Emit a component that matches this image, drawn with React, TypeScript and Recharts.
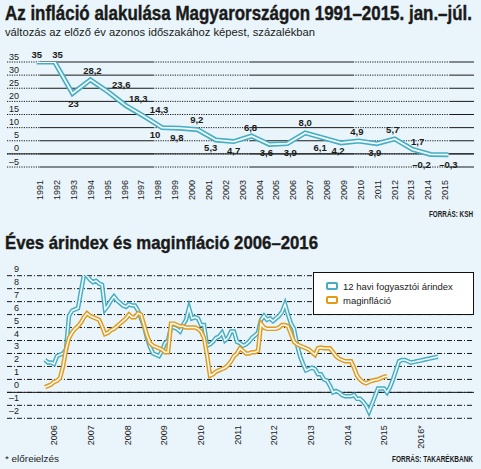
import React from 'react';
import { LineChart, Line, XAxis, YAxis, CartesianGrid, ReferenceLine, LabelList, Legend } from 'recharts';

const BG = '#e9f5fb';
const TEAL = '#45adc4';
const ORANGE = '#e59a16';
const INK = '#1a1a1a';
const FONT = '"Liberation Sans", Arial, sans-serif';

// felső ábra: éves infláció
const inflYears = ['1991', '1992', '1993', '1994', '1995', '1996', '1997', '1998', '1999', '2000', '2001', '2002',
  '2003', '2004', '2005', '2006', '2007', '2008', '2009', '2010', '2011', '2012', '2013', '2014', '2015'];
// a görbe pontjainak sorszámában mérve, hol áll az évfelirat
const inflYearPos = [0.18, 1.13, 2.07, 3.01, 3.95, 4.9, 5.84, 6.78, 7.73, 8.67, 9.61, 10.55, 11.5,
  12.44, 13.38, 14.32, 15.27, 16.21, 17.15, 18.1, 19.04, 19.98, 20.92, 21.87, 22.81];
const inflValues = [35, 35, 23, 28.2, 23.6, 18.3, 14.3, 10, 9.8, 9.2, 5.3, 4.7, 6.8, 3.6, 3.9, 8.0,
  6.1, 4.2, 4.9, 3.9, 5.7, 1.7, -0.2, -0.3];
const inflLabels = ['35', '35', '23', '28,2', '23,6', '18,3', '14,3', '10', '9,8', '9,2', '5,3', '4,7',
  '6,8', '3,6', '3,9', '8,0', '6,1', '4,2', '4,9', '3,9', '5,7', '1,7', '–0,2', '–0,3'];
const inflTicks = [35, 30, 25, 20, 15, 10, 5, 0, -5];

// alsó ábra: havi adatok, 2006. jan. – 2016. dec.
const cpi2006_2010 = [
  2.5, 2.3, 2.3, 2.2, 2.8, 2.9, 3.0, 3.3, 5.9, 6.3, 6.4, 6.5,
  7.8, 9.1, 9.0, 8.7, 8.5, 8.6, 8.4, 8.3, 6.4, 6.7, 7.1, 7.4,
  7.1, 6.9, 6.7, 6.6, 6.8, 6.7, 6.7, 6.3, 5.7, 5.1, 4.2, 3.5,
  3.0, 2.9, 2.8, 3.2, 3.8, 4.0, 5.0, 5.0, 4.9, 4.7, 5.2, 5.6,
  6.5, 5.7, 5.8, 5.7, 5.2, 5.2, 3.6, 3.7, 3.9, 4.2, 4.3, 4.6,
];
const cpi2011_2016 = [
  4.0, 4.2, 4.7, 4.7, 3.9, 3.8, 3.6, 3.7, 3.9, 4.2, 4.4, 4.6,
  5.6, 5.9, 5.6, 5.7, 5.5, 5.7, 5.9, 6.2, 6.8, 6.0, 5.3, 4.9,
  3.7, 2.8, 2.2, 1.7, 1.8, 1.9, 1.8, 1.4, 1.4, 1.0, 0.9, 0.5,
  0.0, 0.1, 0.0, -0.2, -0.3, -0.3, -0.3, -0.2, -0.5, -0.5, -0.7, -1.0,
  -1.5, -0.9, -0.3, 0.3, 0.3, 0.3, 0.0, 0.4, 1.0, 1.7, 2.4, 2.5,
  2.5, 2.4, 2.3, 2.35, 2.4, 2.45, 2.5, 2.55, 2.6, 2.65, 2.7, 2.75,
];
const core2006_2010 = [
  0.4, 0.5, 0.6, 0.8, 0.9, 1.1, 2.0, 3.3, 4.2, 4.6, 4.9, 5.1,
  5.4, 5.8, 6.1, 5.9, 5.8, 5.7, 5.6, 5.1, 4.5, 4.6, 4.8, 4.9,
  5.1, 5.3, 5.5, 5.7, 6.0, 5.8, 5.8, 6.1, 6.0, 5.2, 4.4, 3.8,
  3.6, 3.5, 3.4, 3.3, 3.1, 3.1, 5.3, 5.3, 5.2, 5.1, 5.1, 5.0,
  5.0, 5.0, 5.0, 4.9, 4.7, 4.2, 2.9, 1.3, 1.4, 1.6, 1.7, 1.8,
];
const core2011_2015 = [
  1.9, 2.1, 2.4, 2.8, 3.0, 3.4, 3.2, 3.0, 3.0, 3.1, 3.1, 3.2,
  5.3, 5.0, 4.9, 4.9, 4.9, 4.9, 5.0, 5.2, 5.2, 5.1, 4.5, 3.9,
  3.7, 3.6, 3.5, 3.4, 3.3, 3.1, 2.9, 3.4, 3.45, 3.4, 3.4, 3.4,
  3.1, 2.8, 2.6, 2.5, 2.4, 2.4, 2.4, 1.9, 1.3, 1.0, 0.8, 0.7,
  0.8, 0.9, 0.95, 1.0, 1.1, 1.2, 1.25,
];
const arTicks = [9, 8, 7, 6, 5, 4, 3, 2, 1, 0, -1, -2];
const arYears = ['2006', '2007', '2008', '2009', '2010', '2011', '2012', '2013', '2014', '2015', '2016*'];
// hónap-index, ahol az évfelirat áll
const arYearPos = [3.1, 15.3, 27.5, 39.7, 51.9, 64.2, 76.4, 88.6, 100.8, 113.0, 125.2];

const inflData = inflValues.map((v, i) => ({ i, v }));
const cpi = [...cpi2006_2010, ...cpi2011_2016];
const core = [...core2006_2010, ...core2011_2015];
const arData = cpi.map((v, m) => ({ m, cpi: v, core: m < core.length ? core[m] : null }));

const fmt = (v: number) => (v < 0 ? '–' + Math.abs(v) : String(v));

// címkék eltolása a pontokhoz képest
const LABEL_OFFSETS = [[0, -8], [3, -8], [1, 10], [2, -9], [13, -7], [12, -7], [15, -7], [-7, 7],
  [-3, 9], [-1, -10], [-5, 8], [0, 9], [-1, -9], [-3, 8], [3, 9], [0, -10], [-3, 10], [-3, 8],
  [-2, -10], [-2, 9], [-2, -9], [5, -8], [-9, 10], [0, 10]];

const PointLabel = (p: any) => {
  const i = p.value as number;
  const [dx, dy] = LABEL_OFFSETS[i] || [0, -8];
  return (
    <text x={p.x + dx} y={p.y + dy} textAnchor="middle" dominantBaseline="central"
      fontSize={9.5} fontWeight="bold" fill={INK} fontFamily={FONT}>
      {inflLabels[i]}
    </text>
  );
};

const yTick = (lift: number) => (p: any) => (
  <text key={p.index} x={19} y={p.y - lift} textAnchor="end" fontSize={9} fill={INK} fontFamily={FONT}>
    {fmt(p.payload.value)}
  </text>
);

// elforgatott évfeliratok a tengely alatt
const yearTick = (gap: number, labels: string[]) => (p: any) => (
  <text key={p.index} transform={`translate(${p.x},${p.y + gap}) rotate(-90)`} textAnchor="end" dy="0.35em"
    fontSize={9} fill={INK} fontFamily={FONT}>
    {labels[p.index]}
  </text>
);

// pontozott és folytonos szakaszok váltakozása a rácsvonalakon
const SEGMENTS: [number, number, boolean][] = [
  [0, 0.07, true], [0.07, 0.313, false], [0.313, 0.52, true], [0.52, 0.741, false], [0.741, 0.948, true], [0.948, 1, false],
];
const mixedLine = (p: any) => {
  const w = p.x2 - p.x1;
  return (
    <g key={p.key}>
      {SEGMENTS.map(([a, b, dotted], k) => (
        <line key={k} x1={p.x1 + a * w} x2={p.x1 + b * w} y1={p.y1} y2={p.y2} stroke={INK}
          strokeWidth={1} strokeDasharray={dotted ? '1.2 1.2' : undefined} />
      ))}
    </g>
  );
};

const LegendBox = () => (
  <div style={{ width: 159, height: 41, background: '#fff', border: '1px solid #111', fontFamily: FONT,
    fontSize: 9.5, color: INK, boxSizing: 'content-box' }}>
    {[['12 havi fogyasztói árindex', TEAL], ['maginfláció', ORANGE]].map(([t, c], k) => (
      <div key={k} style={{ display: 'flex', alignItems: 'center', height: 14, marginTop: k === 0 ? 6 : 0, paddingLeft: 12 }}>
        <span style={{ width: 8, height: 4, border: `2px solid ${c}`, borderRadius: 2, marginRight: 5 }} />
        <span>{t}</span>
      </div>
    ))}
  </div>
);

const txt = { fontFamily: FONT, fill: INK };

// keskenyített, magasított felirat
const Tall = ({ x, y, size, sy, w, bold, children }: any) => (
  <text transform={`translate(${x},${y}) scale(1,${sy})`} fontSize={size} fontWeight={bold ? 'bold' : 'normal'}
    textLength={w} lengthAdjust="spacingAndGlyphs" stroke={bold && size > 12 ? INK : 'none'} strokeWidth={0.35} {...txt}>
    {children}
  </text>
);

export default function App() {
  return (
    <div style={{ position: 'absolute', left: 0, top: 0, width: 481, height: 469, background: BG, overflow: 'hidden' }}>
      <svg width={481} height={469} style={{ position: 'absolute', left: 0, top: 0 }}>
        <Tall x={5} y={19.5} size={16.8} sy={1.15} w={467} bold>Az infláció alakulása Magyarországon 1991–2015. jan.–júl.</Tall>
        <Tall x={5} y={36} size={10.2} sy={1} w={310}>változás az előző év azonos időszakához képest, százalékban</Tall>
        <Tall x={429} y={217} size={6.3} sy={1.35} w={44} bold>FORRÁS: KSH</Tall>
        <Tall x={5} y={249} size={16.6} sy={1.15} w={313} bold>Éves árindex és maginfláció 2006–2016</Tall>
        <Tall x={5} y={461.5} size={8.5} sy={1.15} w={54}>* előreielzés</Tall>
        <Tall x={392} y={461.5} size={6.3} sy={1.35} w={81} bold>FORRÁS: TAKARÉKBANK</Tall>
      </svg>

      <div style={{ position: 'absolute', left: 0, top: 0 }}>
        <LineChart width={481} height={203} data={inflData} margin={{ top: 62, right: 7, left: 6, bottom: 0 }}>
          <CartesianGrid vertical={false} horizontal={mixedLine} />
          <ReferenceLine y={0} stroke={INK} strokeWidth={1} />
          <XAxis dataKey="i" type="number" domain={[-1.66, 24.43]} allowDataOverflow ticks={inflYearPos}
            interval={0} tickSize={0} axisLine={false} tick={yearTick(11, inflYears)} height={36} />
          <YAxis domain={[-5, 35]} ticks={inflTicks} interval={0} width={1} axisLine={false} tickLine={false}
            tick={yTick(2.5)} allowDataOverflow />
          <Line dataKey="v" type="linear" stroke={TEAL} strokeWidth={5} dot={false} isAnimationActive={false} />
          <Line dataKey="v" type="linear" stroke="#f2fafd" strokeWidth={1.8} dot={false} isAnimationActive={false}>
            <LabelList dataKey="i" content={<PointLabel />} />
          </Line>
        </LineChart>
      </div>

      <div style={{ position: 'absolute', left: 0, top: 0 }}>
        <LineChart width={481} height={460} data={arData} margin={{ top: 275.7, right: 7, left: 6, bottom: 0 }}>
          <CartesianGrid vertical={false} stroke={INK} strokeDasharray="5 2 1 2" />
          <ReferenceLine y={0} stroke={INK} strokeWidth={1} />
          <XAxis dataKey="m" type="number" domain={[-12.67, 143]} allowDataOverflow ticks={arYearPos}
            interval={0} tickSize={0} axisLine={false} tick={yearTick(5, arYears)} height={41.7} />
          <YAxis domain={[-2, 9]} ticks={arTicks} interval={0} width={1} axisLine={false} tickLine={false}
            tick={yTick(4)} allowDataOverflow />
          <Line dataKey="cpi" stroke={TEAL} strokeWidth={4.5} dot={false} isAnimationActive={false} />
          <Line dataKey="cpi" stroke="#f2fafd" strokeWidth={1.6} dot={false} isAnimationActive={false} />
          <Line dataKey="core" stroke={ORANGE} strokeWidth={4.5} dot={false} isAnimationActive={false} />
          <Line dataKey="core" stroke="#f2fafd" strokeWidth={1.6} dot={false} isAnimationActive={false} />
          <Legend layout="horizontal" align="center" verticalAlign="middle" content={<LegendBox />}
            wrapperStyle={{ left: 313, top: 272, width: 161, height: 43 }} />
        </LineChart>
      </div>
    </div>
  );
}
